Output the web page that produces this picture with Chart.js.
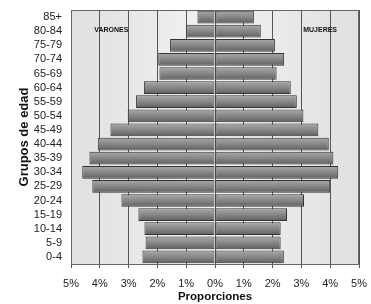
<!DOCTYPE html>
<html>
<head>
<meta charset="utf-8">
<script src="https://cdn.jsdelivr.net/npm/chart.js@4"></script>
<style>
  html, body { margin: 0; padding: 0; background: #fff; }
  #wrap { width: 371px; height: 304px; }
</style>
</head>
<body>
<div id="wrap"><canvas id="myChart" width="371" height="304"></canvas></div>
<script>
// Data and Axis config
const ageGroups = ["85+", "80-84", "75-79", "70-74", "65-69", "60-64", "55-59", "50-54", "45-49",
  "40-44", "35-39", "30-34", "25-29", "20-24", "15-19", "10-14", "5-9", "0-4"];
// men shown on the left (negative side)
const varones = [0.61, 1.0, 1.56, 1.97, 1.93, 2.47, 2.74, 3.03, 3.63,
  4.07, 4.36, 4.61, 4.26, 3.25, 2.66, 2.45, 2.41, 2.52];
const mujeres = [1.35, 1.59, 2.08, 2.40, 2.14, 2.63, 2.84, 3.07, 3.59,
  3.95, 4.11, 4.28, 4.0, 3.09, 2.5, 2.28, 2.28, 2.39];
const xTicks = [-5, -4, -3, -2, -1, 0, 1, 2, 3, 4, 5];

const fontFam = '"Liberation Sans", Arial, sans-serif';

// gradient per bar, light on top, dark at the bottom
function barFill(c) {
  const chart = c.chart;
  if (!chart.chartArea || c.dataIndex === undefined) return '#8c8c8c';
  const y = chart.scales.y.getPixelForValue(c.dataIndex);
  const h = (chart.chartArea.bottom - chart.chartArea.top) / ageGroups.length / 2;
  const g = chart.ctx.createLinearGradient(0, y - h, 0, y + h);
  g.addColorStop(0, '#acacac');
  g.addColorStop(0.5, '#878787');
  g.addColorStop(1, '#5a5a5a');
  return g;
}

// plot background + frame
const plotBackground = {
  id: 'plot_bg',
  beforeDraw: (chart) => {
    const { ctx, chartArea: a } = chart;
    ctx.save();
    const g = ctx.createLinearGradient(a.left, 0, a.right, 0);
    g.addColorStop(0, '#e0e0e0');
    g.addColorStop(0.5, '#f2f2f2');
    g.addColorStop(1, '#e0e0e0');
    ctx.fillStyle = g;
    ctx.fillRect(a.left, a.top, a.right - a.left, a.bottom - a.top);
    ctx.restore();
  },
  afterDraw: (chart) => {
    const { ctx, chartArea: a } = chart;
    ctx.save();
    ctx.strokeStyle = '#666';
    ctx.lineWidth = 1;
    ctx.strokeRect(a.left + 0.5, a.top + 0.5, a.right - a.left - 1, a.bottom - a.top);
    // side labels
    ctx.fillStyle = '#111';
    ctx.font = 'bold 7px ' + fontFam;
    ctx.textAlign = 'center';
    ctx.textBaseline = 'middle';
    const yRow = chart.scales.y.getPixelForValue(1) - 1;
    ctx.fillText('VARONES', chart.scales.x.getPixelForValue(-3.6), yRow);
    ctx.fillText('MUJERES', chart.scales.x.getPixelForValue(3.65), yRow);
    ctx.restore();
  }
};

var ctx = document.getElementById('myChart').getContext('2d');
var chart = new Chart(ctx, {
  type: 'bar',
  data: {
    labels: ageGroups,
    datasets: [{
      label: 'Varones',
      data: varones.map(v => -v),
      backgroundColor: barFill,
      borderColor: '#333',
      borderWidth: 1,
      borderSkipped: false,
      categoryPercentage: 1,
      barPercentage: 0.9
    }, {
      label: 'Mujeres',
      data: mujeres,
      backgroundColor: barFill,
      borderColor: '#333',
      borderWidth: 1,
      borderSkipped: false,
      categoryPercentage: 1,
      barPercentage: 0.9
    }]
  },
  plugins: [plotBackground],
  options: {
    indexAxis: 'y',
    responsive: false,
    animation: false,
    layout: { padding: { left: 0, right: 12, top: 10, bottom: 0 } },
    plugins: {
      legend: { display: false },
      tooltip: { enabled: false }
    },
    scales: {
      x: {
        stacked: true,
        min: -5,
        max: 5,
        afterBuildTicks: (s) => { s.ticks = xTicks.map(v => ({ value: v })); },
        afterFit: (s) => { s.height = 40; s.paddingLeft = 0; s.paddingRight = 0; },
        grid: { color: '#555', tickLength: 4, drawOnChartArea: true },
        border: { color: '#666' },
        ticks: {
          color: '#222',
          font: { family: fontFam, size: 11 },
          padding: 9,
          callback: (v) => Math.abs(v) + '%'
        },
        title: {
          display: true,
          text: 'Proporciones',
          color: '#111',
          font: { family: fontFam, size: 11.5, weight: 'bold' },
          padding: { top: 0, bottom: 0 }
        }
      },
      y: {
        stacked: true,
        afterFit: (s) => { s.width = 71; s.paddingTop = 0; s.paddingBottom = 0; },
        grid: { display: false, drawTicks: false },
        border: { color: '#666' },
        ticks: {
          color: '#222',
          font: { family: fontFam, size: 11 },
          padding: 9,
          autoSkip: false
        },
        title: {
          display: true,
          text: 'Grupos de edad',
          color: '#111',
          font: { family: fontFam, size: 13, weight: 'bold' },
          padding: { top: 17, bottom: 0 }
        }
      }
    }
  }
});
</script>
</body>
</html>
